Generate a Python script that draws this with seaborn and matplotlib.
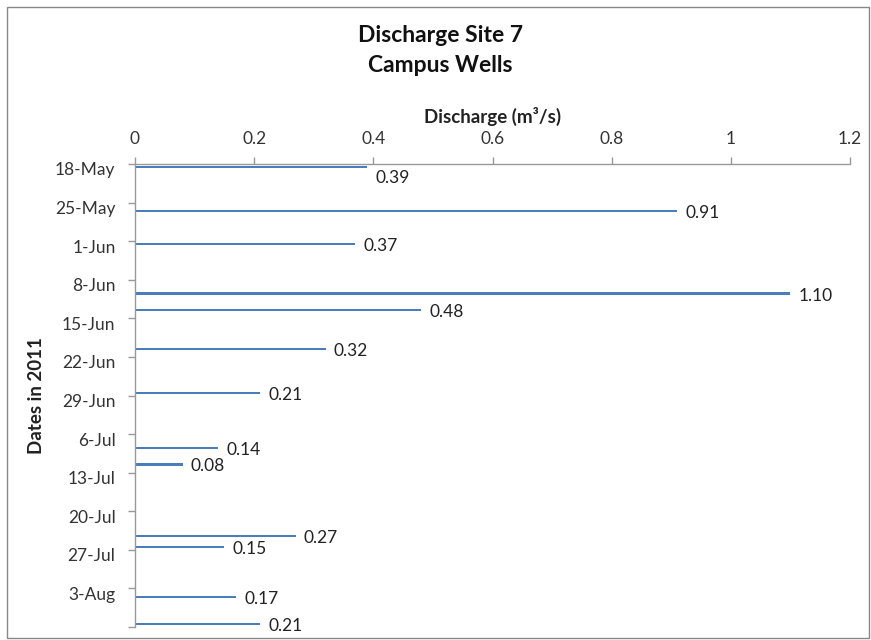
import matplotlib
matplotlib.use("Agg")
import matplotlib.pyplot as plt
import matplotlib.patches as mpatches
import matplotlib.transforms as mtransforms
import seaborn as sns
import pandas as pd
import numpy as np

# ---- data ----
dates = ["2011-05-18", "2011-05-26", "2011-06-01", "2011-06-10", "2011-06-13",
         "2011-06-20", "2011-06-28", "2011-07-08", "2011-07-11", "2011-07-24",
         "2011-07-26", "2011-08-04", "2011-08-09"]
discharge = [0.39, 0.91, 0.37, 1.10, 0.48, 0.32, 0.21, 0.14, 0.08, 0.27, 0.15, 0.17, 0.21]
tick_dates = ["2011-05-18", "2011-05-25", "2011-06-01", "2011-06-08", "2011-06-15",
              "2011-06-22", "2011-06-29", "2011-07-06", "2011-07-13", "2011-07-20",
              "2011-07-27", "2011-08-03", "2011-08-10"]
tick_labels = ["18-May", "25-May", "1-Jun", "8-Jun", "15-Jun", "22-Jun", "29-Jun",
               "6-Jul", "13-Jul", "20-Jul", "27-Jul", "3-Aug", ""]
x_ticks = [0, 0.2, 0.4, 0.6, 0.8, 1.0, 1.2]
x_tick_labels = ["0", "0.2", "0.4", "0.6", "0.8", "1", "1.2"]

start = pd.Timestamp("2011-05-18")
end = pd.Timestamp("2011-08-10")
day_pos = [(pd.Timestamp(d) - start).days + 0.5 for d in dates]
tick_pos = [(pd.Timestamp(d) - start).days for d in tick_dates]
df = pd.DataFrame({"day": day_pos, "discharge": discharge})

sns.set_theme(style="white")
plt.rcParams["font.family"] = ["Lato", "DejaVu Sans"]

fig = plt.figure(figsize=(8.71, 6.4), dpi=100)
fig.patch.set_facecolor("white")
ax = fig.add_axes([135 / 871, 1 - 627 / 640, (850 - 135) / 871, (627 - 164) / 640])

bar_color = "#4A7EBB"
sns.barplot(data=df, x="discharge", y="day", orient="y", native_scale=True,
            width=0.2, color=bar_color, linewidth=0, saturation=1, ax=ax)

ax.set_xlim(0, 1.2)
ax.set_ylim((end - start).days, 0)

fs = 12.5
ax.xaxis.tick_top()
ax.xaxis.set_label_position("top")
ax.set_xticks(x_ticks)
ax.set_xticklabels(x_tick_labels, fontsize=fs, color="#333333")
ax.set_yticks(tick_pos)
ax.set_yticklabels(tick_labels, fontsize=fs, color="#333333")
ax.tick_params(axis="x", direction="out", length=5, width=1, color="#999999", pad=7)
ax.tick_params(axis="y", direction="out", length=5, width=1, color="#999999", pad=9, left=True)
ax.tick_params(axis="x", top=True, bottom=False)

# Excel places the date labels slightly below their ticks
shift = mtransforms.ScaledTranslation(0, -5 / 100, fig.dpi_scale_trans)
for lab in ax.get_yticklabels():
    lab.set_transform(lab.get_transform() + shift)

for side in ["right", "bottom"]:
    ax.spines[side].set_visible(False)
for side in ["top", "left"]:
    ax.spines[side].set_visible(True)
    ax.spines[side].set_color("#999999")
    ax.spines[side].set_linewidth(1)
ax.grid(False)

ax.set_xlabel("Discharge (m³/s)", fontsize=13.5, fontweight="bold", labelpad=6, color="#222222")
ax.set_ylabel("Dates in 2011", fontsize=13.5, fontweight="bold", labelpad=7, color="#222222")

# value labels
for y, v in zip(day_pos, discharge):
    dy = 2 if y > 3 else 11
    ax.annotate(f"{v:.2f}", xy=(v, y), xytext=(8, -dy), textcoords="offset pixels",
                ha="left", va="center", fontsize=fs, color="#222222")

fig.text(440 / 871, 1 - 35 / 640, "Discharge Site 7", ha="center", va="center",
         fontsize=16.5, fontweight="bold", color="#111111")
fig.text(440 / 871, 1 - 66 / 640, "Campus Wells", ha="center", va="center",
         fontsize=16.5, fontweight="bold", color="#111111")

# chart border
fig.patches.append(mpatches.Rectangle((7 / 871, 2 / 640), 862 / 871, 631 / 640,
                                      transform=fig.transFigure, fill=False,
                                      edgecolor="#888888", linewidth=1))

fig.savefig("out.png", dpi=100)
